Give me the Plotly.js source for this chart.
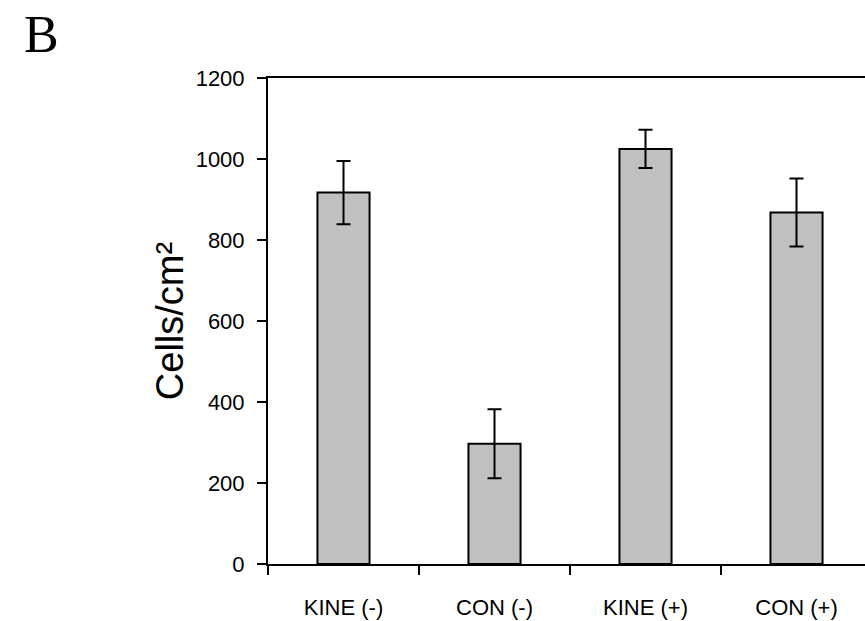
<!DOCTYPE html>
<html>
<head>
<meta charset="utf-8">
<script src="https://cdn.plot.ly/plotly-3.0.1.min.js"></script>
<style>html,body{margin:0;padding:0;background:#fff;}#chart{width:865px;height:621px;}</style>
</head>
<body>
<div id="chart"></div>
<script>
const categories = ["KINE (-)", "CON (-)", "KINE (+)", "CON (+)"];
const values = [917, 297, 1025, 868];
const errors = [78, 85, 47, 84];
const yTicks = [0, 200, 400, 600, 800, 1000, 1200];

const sans = '"Liberation Sans", Arial, sans-serif';
const xPos = categories.map((c, i) => i);
const boundaries = categories.map((c, i) => i - 0.5);

const trace = {
  type: 'bar',
  x: xPos,
  y: values,
  width: 0.345,
  marker: {color: '#c0c0c0', line: {color: '#000', width: 2}},
  error_y: {type: 'data', array: errors, visible: true, color: '#000', thickness: 2, width: 7},
  hoverinfo: 'none'
};
const dummy = {type: 'scatter', x: [0], y: [0], xaxis: 'x2', yaxis: 'y', mode: 'markers', marker: {opacity: 0}, hoverinfo: 'none', showlegend: false};

const xr = [-0.5, -0.5 + 597 / 151];
const layout = {
  width: 865, height: 621,
  margin: {l: 268, r: 0, t: 78, b: 57},
  paper_bgcolor: '#fff', plot_bgcolor: '#fff',
  showlegend: false,
  xaxis: {
    range: xr, tickmode: 'array', tickvals: xPos, ticktext: categories,
    ticks: '', showgrid: false, zeroline: false,
    showline: true, linecolor: '#000', linewidth: 2, mirror: true,
    ticklabelstandoff: 23,
    tickfont: {family: sans, size: 22, color: '#000'}
  },
  xaxis2: {
    overlaying: 'x', anchor: 'y', side: 'bottom', range: xr,
    tickmode: 'array', tickvals: boundaries, ticks: 'outside', ticklen: 10, tickwidth: 2, tickcolor: '#000',
    showticklabels: false, showgrid: false, zeroline: false, showline: false
  },
  yaxis: {
    range: [0, 1200], tickmode: 'array', tickvals: yTicks,
    ticks: 'outside', ticklen: 9, tickwidth: 2, tickcolor: '#000',
    showgrid: false, zeroline: false, showline: true, linecolor: '#000', linewidth: 2,
    ticklabelstandoff: 8,
    tickfont: {family: sans, size: 22, color: '#000'},
    title: {text: 'Cells/cm²', font: {family: sans, size: 38, color: '#000'}, standoff: 0}
  },
  annotations: [{
    text: 'B', xref: 'paper', yref: 'paper', x: -268/597, y: 1 + 78/486, xanchor: 'left', yanchor: 'top',
    xshift: 22, yshift: -4, showarrow: false,
    font: {family: '"Liberation Serif", "Times New Roman", serif', size: 52, color: '#000'}
  }]
};
Plotly.newPlot('chart', [trace, dummy], layout, {displayModeBar: false, staticPlot: true});
</script>
</body>
</html>
